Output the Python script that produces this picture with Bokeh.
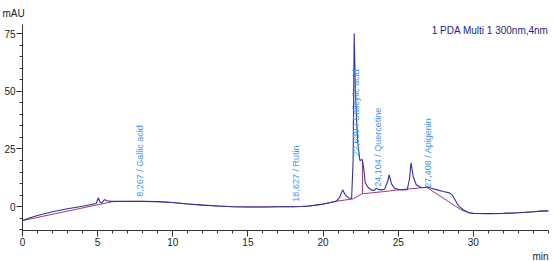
import numpy as np
from bokeh.plotting import figure
from bokeh.models import FixedTicker, Range1d, Label, Title
from bokeh.core.properties import value
from bokeh.embed import file_html
from bokeh.resources import INLINE

# Chromatogram (min, mAU)
time_min = [0.0, 0.5, 1.0, 2.0, 3.0, 4.0, 4.9, 5.05, 5.15, 5.27, 5.45, 5.6, 5.9,
            6.5, 7.0, 8.0, 9.0, 10.0, 11.0, 12.0, 13.0, 14.0, 15.0, 16.0, 17.0,
            18.0, 18.6, 19.0, 19.5, 20.0, 20.5, 20.9, 21.1, 21.3, 21.5, 21.7,
            21.9, 22.0, 22.07, 22.15, 22.3, 22.45, 22.6, 22.7, 22.8, 23.0, 23.2,
            23.4, 23.55, 23.7, 23.9, 24.1, 24.3, 24.4, 24.55, 24.75, 25.0, 25.3,
            25.6, 25.75, 25.85, 26.0, 26.2, 26.5, 26.8, 26.95, 27.2, 27.6, 28.0,
            28.4, 28.6, 28.8, 29.0, 29.3, 29.7, 30.0, 31.0, 32.0, 33.0, 34.0,
            34.5, 35.0]
signal_mau = [-6.0, -4.8, -3.8, -2.2, -0.9, 0.2, 1.4, 3.9, 2.0, 1.6, 3.1, 2.6, 2.3,
              2.3, 2.3, 2.3, 2.2, 1.8, 1.2, 0.7, 0.3, 0.0, -0.1, -0.1, 0.0,
              0.0, 0.1, 0.3, 0.7, 1.2, 1.8, 2.5, 4.0, 7.3, 5.0, 3.8,
              3.6, 20.0, 75.0, 50.0, 28.0, 20.0, 20.5, 17.0, 10.5, 8.3, 7.3,
              7.0, 8.0, 7.4, 7.3, 7.6, 11.0, 13.8, 10.0, 8.0, 7.5, 7.3,
              7.4, 12.0, 19.0, 13.0, 9.5, 8.3, 8.4, 8.6, 8.0, 7.3, 6.6,
              6.0, 5.0, 2.8, 0.5, -1.2, -2.6, -2.9, -3.0, -2.9, -2.6, -2.2,
              -1.9, -1.8]

# Integration baseline
base_time = [0.0, 6.0, 7.0, 8.0, 9.0, 10.0, 11.0, 12.0, 13.0, 14.0, 15.0, 16.0,
             17.0, 18.0, 19.0, 20.0, 20.9, 22.0, 22.6, 24.0, 25.0, 26.9, 29.2,
             29.7, 30.0, 31.0, 32.0, 33.0, 34.0, 34.5, 35.0]
base_mau = [-6.0, 2.2, 2.3, 2.3, 2.2, 1.8, 1.2, 0.7, 0.3, 0.0, -0.1, -0.1,
            0.0, 0.0, 0.2, 1.1, 2.4, 3.4, 5.6, 6.5, 7.3, 8.4, -1.4,
            -2.6, -2.9, -3.0, -2.9, -2.6, -2.2, -1.9, -1.8]

# Peak drop line
drop_time = [22.62, 22.62]
drop_mau = [5.6, 20.0]

# Peak labels
peak_rt = [8.267, 18.627, 22.639, 24.104, 27.408]
peak_name = ["Gallic acid", "Rutin", "Salicylic acid", "Quercetine", "Apigenin"]
label_base = [4.3, 2.2, 22.0, 8.6, 8.2]

x_ticks = [0, 5, 10, 15, 20, 25, 30]
y_ticks = [0, 25, 50, 75]

p = figure(width=554, height=261, output_backend="svg", toolbar_location=None,
           title=None, x_range=Range1d(0, 35), y_range=Range1d(-10.3, 78.9),
           min_border_left=22, min_border_right=6, min_border_top=23,
           min_border_bottom=31)
p.outline_line_color = None
p.xgrid.visible = False
p.ygrid.visible = False
p.background_fill_color = "white"
p.border_fill_color = "white"

p.line(base_time, base_mau, line_color="#9C3C74", line_width=1)
p.line(drop_time, drop_mau, line_color="#9C3C74", line_width=1)
p.line(time_min, signal_mau, line_color="#32329E", line_width=1.1)

texts = [f"{rt:.3f}".replace(".", ",") + " / " + n for rt, n in zip(peak_rt, peak_name)]
p.text(x=[rt - 0.12 for rt in peak_rt], y=label_base, text=texts, angle=np.pi / 2,
       text_align="left", text_baseline="bottom", text_color="#3F97EE",
       text_font=value("Liberation Sans"), text_font_size="9px")

for ax in (p.xaxis[0], p.yaxis[0]):
    ax.axis_line_color = "#333333"
    ax.major_tick_line_color = "#333333"
    ax.minor_tick_line_color = "#333333"
    ax.major_tick_out = 6
    ax.major_tick_in = 0
    ax.minor_tick_out = 3
    ax.minor_tick_in = 0
    ax.major_label_text_font = "Liberation Sans"
    ax.major_label_text_font_size = "10px"
    ax.major_label_text_color = "#222222"
    ax.major_label_standoff = 1

p.xaxis.ticker = FixedTicker(ticks=x_ticks, minor_ticks=list(range(0, 36)))
p.yaxis.ticker = FixedTicker(ticks=y_ticks, minor_ticks=list(range(-10, 80, 5)))

p.add_layout(Title(text="mAU", align="left", offset=-20, text_font="Liberation Sans",
                   text_font_size="10px", text_font_style="normal",
                   text_color="#222222", standoff=11), "above")
p.add_layout(Title(text="min", align="right", text_font="Liberation Sans",
                   text_font_size="10px", text_font_style="normal",
                   text_color="#222222", standoff=0), "below")
p.add_layout(Label(x=35.0, y=76.2, text="1 PDA Multi 1 300nm,4nm",
                   text_font="Liberation Sans", text_font_size="10px",
                   text_color="#1E1E80", text_align="right",
                   text_baseline="middle"))

open("out.html", "w").write(file_html(p, INLINE))
